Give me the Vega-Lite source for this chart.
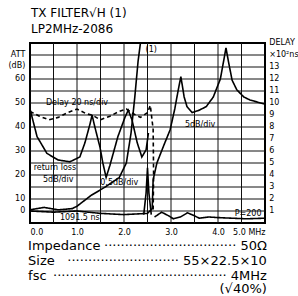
{
  "$schema": "https://vega.github.io/schema/vega-lite/v6.json",
  "width": 235,
  "height": 180,
  "autosize": "none",
  "padding": {"left": 30, "top": 43, "right": 33, "bottom": 73},
  "background": "white",
  "config": {
    "view": {"stroke": "black", "strokeWidth": 2},
    "font": "DejaVu Sans",
    "axis": {"labelFont": "DejaVu Sans", "labelFontSize": 8, "labelColor": "black", "domain": false, "ticks": false, "grid": false}
  },
  "title": {"text": ["TX FILTER√H (1)", "LP2MHz-2086"], "anchor": "start", "frame": "group", "font": "DejaVu Sans", "fontSize": 12, "fontWeight": "normal", "color": "black", "lineHeight": 16, "offset": 3, "dx": 1},
  "datasets": {
    "xgrid": [{"f": 0.5}, {"f": 1}, {"f": 1.5}, {"f": 2}, {"f": 2.5}, {"f": 3}, {"f": 3.5}, {"f": 4}, {"f": 4.5}],
    "ygrid": [{"u": 1}, {"u": 2}, {"u": 3}, {"u": 4}, {"u": 5}, {"u": 6}, {"u": 7}, {"u": 8}, {"u": 9}, {"u": 10}, {"u": 11}, {"u": 12}, {"u": 13}, {"u": 14}],
    "attLabels": [{"u": 1, "t": "0"}, {"u": 2, "t": "10"}, {"u": 4, "t": "20"}, {"u": 6, "t": "30"}, {"u": 8, "t": "40"}, {"u": 10, "t": "50"}, {"u": 12, "t": "60"}, {"u": 13.1, "t": "(dB)"}, {"u": 14.0, "t": "ATT"}],
    "delayLabels": [{"u": 1, "t": "1"}, {"u": 2, "t": "2"}, {"u": 3, "t": "3"}, {"u": 4, "t": "4"}, {"u": 5, "t": "5"}, {"u": 6, "t": "6"}, {"u": 7, "t": "7"}, {"u": 8, "t": "8"}, {"u": 9, "t": "9"}, {"u": 10, "t": "10"}, {"u": 11, "t": "11"}, {"u": 12, "t": "12"}, {"u": 13, "t": "13"}, {"u": 14.0, "t": "×10²ns"}, {"u": 15.0, "t": "DELAY"}],
    "curves": [
      {"series": "return loss", "i": 0, "x": 0.0, "y": 9.5},
      {"series": "return loss", "i": 1, "x": 0.15, "y": 7.2},
      {"series": "return loss", "i": 2, "x": 0.36, "y": 5.8},
      {"series": "return loss", "i": 3, "x": 0.6, "y": 5.25},
      {"series": "return loss", "i": 4, "x": 0.85, "y": 5.1},
      {"series": "return loss", "i": 5, "x": 1.06, "y": 5.5},
      {"series": "return loss", "i": 6, "x": 1.17, "y": 6.7},
      {"series": "return loss", "i": 7, "x": 1.28, "y": 8.3},
      {"series": "return loss", "i": 8, "x": 1.32, "y": 9.0},
      {"series": "return loss", "i": 9, "x": 1.38, "y": 8.0},
      {"series": "return loss", "i": 10, "x": 1.49, "y": 6.3},
      {"series": "return loss", "i": 11, "x": 1.55, "y": 5.0},
      {"series": "return loss", "i": 12, "x": 1.62, "y": 3.8},
      {"series": "return loss", "i": 13, "x": 1.7, "y": 4.8},
      {"series": "return loss", "i": 14, "x": 1.87, "y": 7.2},
      {"series": "return loss", "i": 15, "x": 2.02, "y": 8.8},
      {"series": "return loss", "i": 16, "x": 2.09, "y": 9.4},
      {"series": "return loss", "i": 17, "x": 2.17, "y": 8.6},
      {"series": "return loss", "i": 18, "x": 2.28, "y": 6.7},
      {"series": "return loss", "i": 19, "x": 2.38, "y": 5.5},
      {"series": "return loss", "i": 20, "x": 2.47, "y": 6.1},
      {"series": "return loss", "i": 21, "x": 2.52, "y": 7.5},
      {"series": "delay", "i": 0, "x": 0.0, "y": 9.3},
      {"series": "delay", "i": 1, "x": 0.2, "y": 8.9},
      {"series": "delay", "i": 2, "x": 0.4, "y": 8.6},
      {"series": "delay", "i": 3, "x": 0.6, "y": 8.8},
      {"series": "delay", "i": 4, "x": 0.8, "y": 9.2},
      {"series": "delay", "i": 5, "x": 1.0, "y": 9.5},
      {"series": "delay", "i": 6, "x": 1.2, "y": 9.1},
      {"series": "delay", "i": 7, "x": 1.32, "y": 9.0},
      {"series": "delay", "i": 8, "x": 1.5, "y": 8.6},
      {"series": "delay", "i": 9, "x": 1.7, "y": 8.9},
      {"series": "delay", "i": 10, "x": 1.9, "y": 9.3},
      {"series": "delay", "i": 11, "x": 2.05, "y": 9.5},
      {"series": "delay", "i": 12, "x": 2.2, "y": 9.1},
      {"series": "delay", "i": 13, "x": 2.35, "y": 8.8},
      {"series": "delay", "i": 14, "x": 2.5, "y": 9.2},
      {"series": "delay", "i": 15, "x": 2.56, "y": 9.8},
      {"series": "delay", "i": 16, "x": 2.62, "y": 7.8},
      {"series": "delay", "i": 17, "x": 2.63, "y": 4.0},
      {"series": "delay", "i": 18, "x": 2.62, "y": 1.0},
      {"series": "att 0.5", "i": 0, "x": 0.0, "y": 1.1},
      {"series": "att 0.5", "i": 1, "x": 0.3, "y": 1.3},
      {"series": "att 0.5", "i": 2, "x": 0.6, "y": 1.1},
      {"series": "att 0.5", "i": 3, "x": 0.9, "y": 1.2},
      {"series": "att 0.5", "i": 4, "x": 1.0, "y": 1.4},
      {"series": "att 0.5", "i": 5, "x": 1.3, "y": 2.3},
      {"series": "att 0.5", "i": 6, "x": 1.6, "y": 3.0},
      {"series": "att 0.5", "i": 7, "x": 1.9, "y": 3.8},
      {"series": "att 0.5", "i": 8, "x": 2.05, "y": 5.0},
      {"series": "att 0.5", "i": 9, "x": 2.15, "y": 7.5},
      {"series": "att 0.5", "i": 10, "x": 2.23, "y": 10.5},
      {"series": "att 0.5", "i": 11, "x": 2.3, "y": 13.5},
      {"series": "att 0.5", "i": 12, "x": 2.35, "y": 15.0},
      {"series": "att", "i": 0, "x": 0.0, "y": 1.0},
      {"series": "att", "i": 1, "x": 0.5, "y": 0.9},
      {"series": "att", "i": 2, "x": 1.0, "y": 1.0},
      {"series": "att", "i": 3, "x": 1.5, "y": 0.8},
      {"series": "att", "i": 4, "x": 2.0, "y": 0.7},
      {"series": "att", "i": 5, "x": 2.5, "y": 0.8},
      {"series": "att", "i": 6, "x": 2.6, "y": 1.2},
      {"series": "att", "i": 7, "x": 2.62, "y": 3.6},
      {"series": "att", "i": 8, "x": 2.7, "y": 5.0},
      {"series": "att", "i": 9, "x": 2.85, "y": 6.5},
      {"series": "att", "i": 10, "x": 2.98, "y": 7.75},
      {"series": "att", "i": 11, "x": 3.08, "y": 9.5},
      {"series": "att", "i": 12, "x": 3.15, "y": 11.0},
      {"series": "att", "i": 13, "x": 3.21, "y": 12.2},
      {"series": "att", "i": 14, "x": 3.28, "y": 10.5},
      {"series": "att", "i": 15, "x": 3.34, "y": 9.7},
      {"series": "att", "i": 16, "x": 3.45, "y": 9.2},
      {"series": "att", "i": 17, "x": 3.6, "y": 9.4},
      {"series": "att", "i": 18, "x": 3.75, "y": 9.7},
      {"series": "att", "i": 19, "x": 3.9, "y": 10.5},
      {"series": "att", "i": 20, "x": 4.05, "y": 12.0},
      {"series": "att", "i": 21, "x": 4.12, "y": 13.5},
      {"series": "att", "i": 22, "x": 4.17, "y": 14.6},
      {"series": "att", "i": 23, "x": 4.22, "y": 13.5},
      {"series": "att", "i": 24, "x": 4.3, "y": 11.9},
      {"series": "att", "i": 25, "x": 4.4, "y": 11.1},
      {"series": "att", "i": 26, "x": 4.55, "y": 10.5},
      {"series": "att", "i": 27, "x": 4.68, "y": 10.25},
      {"series": "att", "i": 28, "x": 5.0, "y": 9.9},
      {"series": "spike", "i": 0, "x": 2.42, "y": 0.7},
      {"series": "spike", "i": 1, "x": 2.47, "y": 2.5},
      {"series": "spike", "i": 2, "x": 2.5, "y": 4.6},
      {"series": "spike", "i": 3, "x": 2.53, "y": 2.5},
      {"series": "spike", "i": 4, "x": 2.58, "y": 0.7},
      {"series": "ripple", "i": 0, "x": 2.65, "y": 0.5},
      {"series": "ripple", "i": 1, "x": 2.8, "y": 0.9},
      {"series": "ripple", "i": 2, "x": 2.95, "y": 0.6},
      {"series": "ripple", "i": 3, "x": 3.05, "y": 0.35},
      {"series": "ripple", "i": 4, "x": 3.2, "y": 0.5},
      {"series": "ripple", "i": 5, "x": 3.35, "y": 0.85},
      {"series": "ripple", "i": 6, "x": 3.5, "y": 0.6},
      {"series": "ripple", "i": 7, "x": 3.6, "y": 0.4},
      {"series": "ripple", "i": 8, "x": 3.8, "y": 0.5},
      {"series": "ripple", "i": 9, "x": 4.0, "y": 0.45},
      {"series": "ripple", "i": 10, "x": 4.3, "y": 0.4},
      {"series": "ripple", "i": 11, "x": 4.6, "y": 0.35},
      {"series": "ripple", "i": 12, "x": 5.0, "y": 0.4}
    ],
    "notes": [
      {"text": "Delay 20 ns/div", "x": 1.0, "y": 10.0},
      {"text": "5dB/div", "x": 3.62, "y": 8.2},
      {"text": "return loss", "x": 0.53, "y": 4.6},
      {"text": "5dB/div", "x": 0.6, "y": 3.6},
      {"text": "0.5dB/div", "x": 1.9, "y": 3.3},
      {"text": "1091.5 ns", "x": 1.06, "y": 0.4},
      {"text": "P=200", "x": 4.64, "y": 0.75},
      {"text": "(1)", "x": 2.58, "y": 14.4}
    ],
    "specs": [
      {"item": "Impedance", "value": "································ 50Ω", "y": -1.92},
      {"item": "Size", "value": "··························· 55×22.5×10", "y": -3.17},
      {"item": "fsc", "value": "·········································· 4MHz", "y": -4.38},
      {"item": "", "value": "(√40%)", "y": -5.54}
    ]
  },
  "layer": [
    {
      "data": {"name": "xgrid"},
      "mark": {"type": "rule", "color": "#111", "strokeWidth": 1},
      "encoding": {
        "x": {"field": "f", "type": "quantitative", "scale": {"domain": [0, 5], "nice": false, "zero": false},
          "axis": {"values": [0, 1, 2, 3, 4, 5], "labelExpr": "datum.value == 5 ? '5.0 MHz' : format(datum.value, '.1f')", "title": null, "labelPadding": 5, "labelOverlap": false}}
      }
    },
    {
      "data": {"name": "ygrid"},
      "mark": {"type": "rule", "color": "#111", "strokeWidth": 1},
      "encoding": {
        "y": {"field": "u", "type": "quantitative", "scale": {"domain": [0, 15], "nice": false, "zero": false}, "axis": null}
      }
    },
    {
      "data": {"name": "curves"},
      "mark": {"type": "line", "color": "black", "strokeWidth": 1.6, "clip": true},
      "encoding": {
        "x": {"field": "x", "type": "quantitative"},
        "y": {"field": "y", "type": "quantitative"},
        "detail": {"field": "series"},
        "order": {"field": "i"},
        "strokeDash": {"field": "series", "type": "nominal", "scale": {"domain": ["return loss", "delay", "att 0.5", "att", "spike", "ripple"], "range": [[1, 0], [4, 3], [1, 0], [1, 0], [1, 0], [1, 0]]}, "legend": null}
      }
    },
    {
      "data": {"name": "notes"},
      "mark": {"type": "text", "font": "DejaVu Sans", "fontSize": 8, "color": "black", "align": "center", "baseline": "middle"},
      "encoding": {
        "x": {"field": "x", "type": "quantitative"},
        "y": {"field": "y", "type": "quantitative"},
        "text": {"field": "text"}
      }
    },
    {
      "data": {"name": "attLabels"},
      "mark": {"type": "text", "font": "DejaVu Sans", "fontSize": 8, "color": "black", "align": "right", "baseline": "middle"},
      "encoding": {
        "x": {"datum": -0.1, "type": "quantitative"},
        "y": {"field": "u", "type": "quantitative"},
        "text": {"field": "t"}
      }
    },
    {
      "data": {"name": "delayLabels"},
      "mark": {"type": "text", "font": "DejaVu Sans", "fontSize": 8, "color": "black", "align": "left", "baseline": "middle"},
      "encoding": {
        "x": {"datum": 5.09, "type": "quantitative"},
        "y": {"field": "u", "type": "quantitative"},
        "text": {"field": "t"}
      }
    },
    {
      "data": {"name": "specs"},
      "mark": {"type": "text", "font": "DejaVu Sans", "fontSize": 13, "color": "black", "align": "left", "baseline": "middle"},
      "encoding": {
        "x": {"datum": -0.04, "type": "quantitative"},
        "y": {"field": "y", "type": "quantitative"},
        "text": {"field": "item"}
      }
    },
    {
      "data": {"name": "specs"},
      "mark": {"type": "text", "font": "DejaVu Sans", "fontSize": 13, "color": "black", "align": "right", "baseline": "middle"},
      "encoding": {
        "x": {"datum": 5.04, "type": "quantitative"},
        "y": {"field": "y", "type": "quantitative"},
        "text": {"field": "value"}
      }
    }
  ]
}
